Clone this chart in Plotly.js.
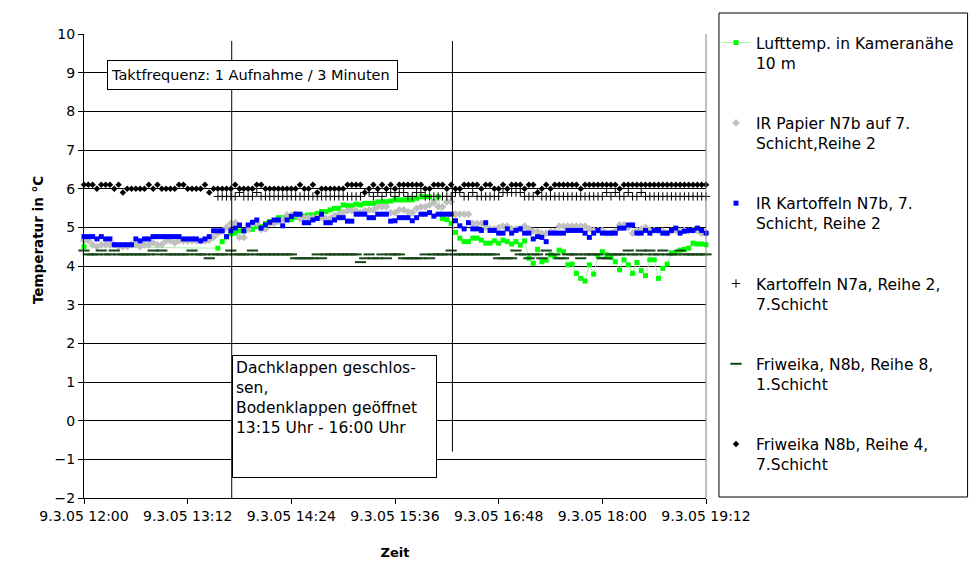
<!DOCTYPE html>
<html>
<head>
<meta charset="utf-8">
<script src="https://cdn.plot.ly/plotly-3.0.1.min.js"></script>
<style>html,body{margin:0;padding:0;background:#fff;}#chart{width:970px;height:561px;}</style>
</head>
<body>
<div id="chart"></div>
<script>
// ---- data (one reading every 3 minutes, 9.3.05 12:00 - 19:12) ----
const startTime = "2005-03-09 12:00";
const stepMinutes = 3;

const seriesNames = [
  "Lufttemp. in Kameranähe<br>10 m",
  "IR Papier N7b auf 7.<br>Schicht,Reihe 2",
  "IR Kartoffeln N7b, 7.<br>Schicht, Reihe 2",
  "Kartoffeln N7a, Reihe 2,<br>7.Schicht",
  "Friweika, N8b, Reihe 8,<br>1.Schicht",
  "Friweika N8b, Reihe 4,<br>7.Schicht"
];

const luftTemp = [4.5,
  null,null,null,null,null,null,null,null,null,null,
  null,null,null,null,null,null,null,null,null,null,
  null,null,null,null,null,null,null,null,null,null,
  4.46,4.63,4.75,4.83,4.85,4.91,4.91,4.95,4.95,
  5.02,5.02,5.10,5.15,5.15,5.25,5.25,5.25,5.20,5.26,
  5.26,5.30,5.32,5.32,5.36,5.41,5.41,5.45,5.49,5.49,
  5.58,5.56,5.56,5.60,5.58,5.62,5.62,5.62,5.66,5.66,
  5.66,5.68,5.71,5.71,5.71,5.71,5.71,5.75,5.79,5.79,
  5.79,5.66,5.79,5.23,5.20,5.10,4.87,4.72,4.63,4.63,
  4.72,4.72,4.67,4.59,4.59,4.65,4.59,4.67,4.63,4.57,
  4.63,4.54,4.65,4.20,4.07,4.43,4.11,4.15,4.29,4.24,
  4.41,4.37,4.03,4.05,3.81,3.68,3.61,4.03,3.79,4.26,
  4.37,4.29,4.22,4.11,3.90,4.16,4.03,3.81,4.09,3.88,
  3.75,4.16,4.16,3.68,3.94,4.05,4.34,4.34,4.41,4.43,
  4.46,4.59,4.57,4.57,4.55];

const irPapier = [
  4.65,4.65,4.55,4.50,4.55,4.55,4.55,4.55,4.50,4.50,
  4.50,4.55,4.55,4.50,4.55,4.55,4.60,4.55,4.55,4.65,
  4.65,4.60,4.65,4.65,4.65,4.65,4.65,4.65,4.65,4.67,
  4.74,4.85,4.90,5.00,5.10,5.12,4.74,4.74,4.95,5.10,
  5.10,4.95,4.96,5.10,5.10,5.15,5.20,5.32,5.32,5.34,
  5.23,5.25,5.25,5.25,5.25,5.25,5.23,5.23,5.30,5.34,
  5.38,5.43,5.43,5.43,5.38,5.43,5.45,5.45,5.53,5.53,
  5.53,5.38,5.38,5.45,5.45,5.40,5.38,5.49,5.53,5.53,
  5.58,5.64,5.53,5.53,5.66,5.66,5.34,5.34,5.34,5.34,
  5.10,5.10,5.10,5.00,4.96,4.96,5.00,5.03,5.03,4.96,
  4.96,4.96,5.03,4.96,4.90,4.89,4.85,4.85,4.89,4.89,
  5.03,5.03,5.03,5.03,5.03,5.03,5.03,4.96,4.92,4.92,
  4.92,4.85,4.85,4.90,5.06,5.06,5.00,4.85,4.92,4.95,
  5.00,4.92,4.92,4.90,4.90,4.85,4.90,4.92,4.90,4.92,
  4.90,4.92,4.92,4.85,4.85];

const irKartoffeln = [
  4.76,4.76,4.76,4.70,4.76,4.70,4.70,4.55,4.55,4.55,
  4.55,4.55,4.70,4.65,4.70,4.70,4.76,4.76,4.76,4.76,
  4.76,4.76,4.76,4.70,4.70,4.70,4.70,4.65,4.70,4.76,
  4.91,4.91,4.91,4.76,4.91,4.98,5.06,4.91,5.06,5.13,
  5.19,4.98,5.06,5.13,5.19,5.19,5.04,5.19,5.28,5.34,
  5.34,5.12,5.12,5.19,5.23,5.34,5.12,5.12,5.19,5.25,
  5.25,5.16,5.16,5.34,5.34,5.34,5.25,5.25,5.34,5.34,
  5.34,5.16,5.17,5.25,5.25,5.25,5.17,5.25,5.34,5.34,
  5.38,5.29,5.34,5.34,5.34,5.34,5.17,5.04,4.96,5.12,
  4.96,4.96,4.92,5.12,4.92,4.92,4.85,4.85,4.96,4.85,
  4.92,4.96,4.85,4.85,4.70,4.76,4.74,4.63,4.85,4.85,
  4.85,4.85,4.92,4.92,4.92,4.92,4.85,4.74,4.85,4.92,
  4.85,4.85,4.85,4.85,4.98,4.98,5.06,5.06,4.85,4.85,
  4.92,4.85,4.92,4.92,4.85,4.85,4.92,4.98,4.85,4.90,
  4.92,4.92,4.98,4.92,4.85];

const kartoffelnN7a = [
  null,null,null,null,null,null,null,null,null,null,
  null,null,null,null,null,null,null,null,null,null,
  null,null,null,null,null,null,null,null,null,null,
  null,5.8,5.8,5.8,5.8,5.8,5.9,5.8,5.8,5.8,
  5.9,5.8,5.8,5.8,5.8,5.8,5.8,5.8,5.8,5.8,
  5.8,5.8,5.8,5.8,5.8,5.8,5.8,5.8,5.8,5.8,
  5.8,5.8,5.8,5.8,5.8,5.9,5.9,5.8,5.9,5.8,
  5.9,5.9,5.8,5.9,5.9,5.8,5.8,5.9,5.9,5.8,
  5.8,5.8,5.8,5.8,5.8,5.8,5.9,5.9,5.8,5.8,
  5.9,5.8,5.8,5.8,5.8,5.8,5.8,5.9,5.9,5.9,
  5.9,5.9,5.8,5.8,5.8,5.9,5.8,5.8,5.8,5.8,
  5.8,5.8,5.8,5.8,5.8,5.8,5.8,5.8,5.8,5.8,
  5.8,5.9,5.8,5.9,5.8,5.8,5.9,5.8,5.8,5.9,
  5.8,5.8,5.8,5.8,5.8,5.8,5.8,5.8,5.8,5.8,
  5.8,5.8,5.8,5.8,5.8];

const friweikaR8 = [
  4.4,4.3,4.3,4.3,4.4,4.3,4.3,4.4,4.3,4.3,
  4.3,4.3,4.3,4.3,4.3,4.3,4.4,4.3,4.4,4.3,
  4.3,4.3,4.3,4.3,4.3,4.4,4.3,4.3,4.3,4.2,
  4.3,4.3,4.3,4.3,4.4,4.3,4.3,4.3,4.3,4.4,
  4.3,4.3,4.3,4.3,4.3,4.3,4.3,4.3,4.3,4.2,
  4.2,4.2,4.2,4.2,4.3,4.2,4.3,4.3,4.3,4.3,
  4.3,4.3,4.3,4.3,4.1,4.2,4.3,4.2,4.2,4.3,
  4.2,4.3,4.3,4.3,4.2,4.2,4.2,4.2,4.2,4.3,
  4.2,4.3,4.3,4.3,4.3,4.4,4.3,4.3,4.3,4.3,
  4.3,4.3,4.3,4.3,4.3,4.3,4.2,4.2,4.2,4.2,
  4.4,4.3,4.3,4.2,4.3,4.3,4.2,4.4,4.3,4.3,
  4.2,4.2,4.3,4.3,4.3,4.2,4.3,4.3,4.3,4.3,
  4.2,4.2,4.3,4.3,4.3,4.3,4.4,4.3,4.3,4.4,
  4.3,4.4,4.3,4.3,4.4,4.3,4.3,4.3,4.4,4.3,
  4.3,4.3,4.3,4.3,4.3];

const friweikaR4 = [
  6.1,6.1,6.1,6.0,6.1,6.1,6.1,6.0,6.1,5.9,
  6.0,6.0,6.0,6.0,6.0,6.1,6.0,6.1,6.0,6.0,
  6.0,6.0,6.1,6.1,6.0,6.0,6.0,6.0,6.1,5.9,
  6.0,6.0,6.0,6.0,6.0,6.1,6.0,6.0,6.0,6.0,
  6.1,6.1,6.0,6.0,6.0,6.0,6.0,6.0,6.0,6.0,
  6.1,6.0,6.0,6.1,5.9,6.0,6.0,6.0,6.0,6.0,
  6.0,6.1,6.1,6.1,6.1,5.9,6.0,6.1,6.0,6.1,
  6.0,6.1,6.0,6.1,6.1,6.1,6.1,6.1,6.1,6.0,
  6.0,6.1,6.1,6.1,6.0,6.1,6.0,6.0,6.1,6.1,
  6.1,6.1,6.0,6.1,6.1,6.0,6.0,6.1,6.0,6.1,
  6.1,6.1,6.0,6.1,6.1,5.9,6.0,6.1,6.0,6.1,
  6.1,6.1,6.1,6.1,6.1,6.0,6.1,6.1,6.1,6.1,
  6.1,6.1,6.1,6.1,6.0,6.1,6.1,6.1,6.1,6.1,
  6.1,6.1,6.1,6.1,6.1,6.1,6.1,6.1,6.1,6.1,
  6.1,6.1,6.1,6.1,6.1];

// ---- time stamps for the readings ----
function pad(n){ return (n < 10 ? "0" : "") + n; }
function timeAt(i){
  const m = 12*60 + i*stepMinutes;
  return "2005-03-09 " + pad(Math.floor(m/60)) + ":" + pad(m % 60);
}
const times = irKartoffeln.map((_, i) => timeAt(i));

const FONT = "DejaVu Sans, Liberation Sans, Arial, sans-serif";

const traces = [
  {name: seriesNames[0], y: luftTemp, mode: "lines+markers", connectgaps: true,
   line: {color: "#a8f0a8", width: 1},
   marker: {symbol: "square", size: 5, color: "#00ff00"}},
  {name: seriesNames[1], y: irPapier, mode: "markers",
   marker: {symbol: "diamond", size: 6, color: "#c0c0c0"}},
  {name: seriesNames[2], y: irKartoffeln, mode: "markers",
   marker: {symbol: "square", size: 5, color: "#0000ff"}},
  {name: seriesNames[3], y: kartoffelnN7a, mode: "markers",
   marker: {symbol: "cross-thin", size: 6, color: "#000000", line: {color: "#000000", width: 1}}},
  {name: seriesNames[4], y: friweikaR8, mode: "markers",
   marker: {symbol: "line-ew", size: 8, color: "#174517", line: {color: "#174517", width: 2}}},
  {name: seriesNames[5], y: friweikaR4, mode: "markers",
   marker: {symbol: "diamond", size: 5, color: "#000000"}}
].map((t, k) => Object.assign({type: "scatter", x: times, cliponaxis: false,
  legendgroup: "g" + k, hoverinfo: "x+y"}, t));

const W = 623, H = 464; // plot area in px
const px = v => (v - 84) / W;
const py = v => (498 - v) / H;

const layout = {
  width: 970, height: 561,
  margin: {l: 84, r: 263, t: 34, b: 63},
  paper_bgcolor: "#ffffff", plot_bgcolor: "#ffffff",
  font: {family: FONT, color: "#000000", size: 14},
  showlegend: true,
  legend: {
    x: px(716), y: py(26), xanchor: "left", yanchor: "top",
    bgcolor: "rgba(0,0,0,0)", borderwidth: 0, maxheight: 600,
    font: {family: FONT, size: 15.5, color: "#000000"},
    tracegroupgap: 37, valign: "top", traceorder: "grouped"
  },
  xaxis: {
    type: "date",
    range: ["2005-03-09 12:00", "2005-03-09 19:12"],
    tick0: "2005-03-09 12:00", dtick: 72*60*1000,
    tickformat: "%-d.%-m.%y %H:%M",
    ticks: "outside", ticklen: 5, tickcolor: "#000000",
    showline: true, linecolor: "#000000", linewidth: 1,
    showgrid: false, zeroline: false, automargin: false,
    tickfont: {family: FONT, size: 14},
    title: {text: "<b>Zeit</b>", font: {family: FONT, size: 13}, standoff: 25}
  },
  yaxis: {
    range: [-2, 10], tick0: 0, dtick: 1,
    ticks: "outside", ticklen: 5, tickcolor: "#000000",
    showline: true, linecolor: "#000000", linewidth: 1,
    showgrid: true, gridcolor: "#000000", gridwidth: 1,
    zeroline: false, automargin: false,
    tickfont: {family: FONT, size: 14}
  },
  shapes: [
    {type: "line", xref: "x", yref: "y", x0: "2005-03-09 13:42:36", x1: "2005-03-09 13:42:36",
     y0: -2, y1: 9.82, line: {color: "#000000", width: 1}},
    {type: "line", xref: "x", yref: "y", x0: "2005-03-09 16:15:54", x1: "2005-03-09 16:15:54",
     y0: -0.8, y1: 9.82, line: {color: "#000000", width: 1}},
    {type: "line", xref: "paper", yref: "paper", x0: 1, x1: 1, y0: 0, y1: 1,
     line: {color: "#808080", width: 1}},
    {type: "rect", xref: "paper", yref: "paper", x0: px(720), x1: px(969), y0: py(497), y1: py(13),
     line: {color: "#000000", width: 1}, fillcolor: "rgba(0,0,0,0)"}
  ],
  annotations: [
    {xref: "paper", yref: "paper", x: px(38), y: py(240), xanchor: "center", yanchor: "middle",
     showarrow: false, textangle: -90, text: "<b>Temperatur in °C</b>",
     font: {family: FONT, size: 13.5, color: "#000000"}},
    {xref: "paper", yref: "paper", x: px(107), y: py(60), xanchor: "left", yanchor: "top",
     showarrow: false, align: "left", text: "Taktfrequenz: 1 Aufnahme / 3 Minuten",
     font: {family: FONT, size: 14.5, color: "#000000"},
     bgcolor: "#ffffff", bordercolor: "#000000", borderwidth: 1, borderpad: 3,
     width: 283, height: 22},
    {xref: "paper", yref: "paper", x: px(232), y: py(355), xanchor: "left", yanchor: "top",
     showarrow: false, align: "left", valign: "top",
     text: "Dachklappen geschlos-<br>sen,<br>Bodenklappen geöffnet<br>13:15 Uhr - 16:00 Uhr",
     font: {family: FONT, size: 15.5, color: "#000000"},
     bgcolor: "#ffffff", bordercolor: "#000000", borderwidth: 1, borderpad: 3,
     width: 197, height: 115}
  ]
};

Plotly.newPlot("chart", traces, layout, {displayModeBar: false, staticPlot: true});
</script>
</body>
</html>
